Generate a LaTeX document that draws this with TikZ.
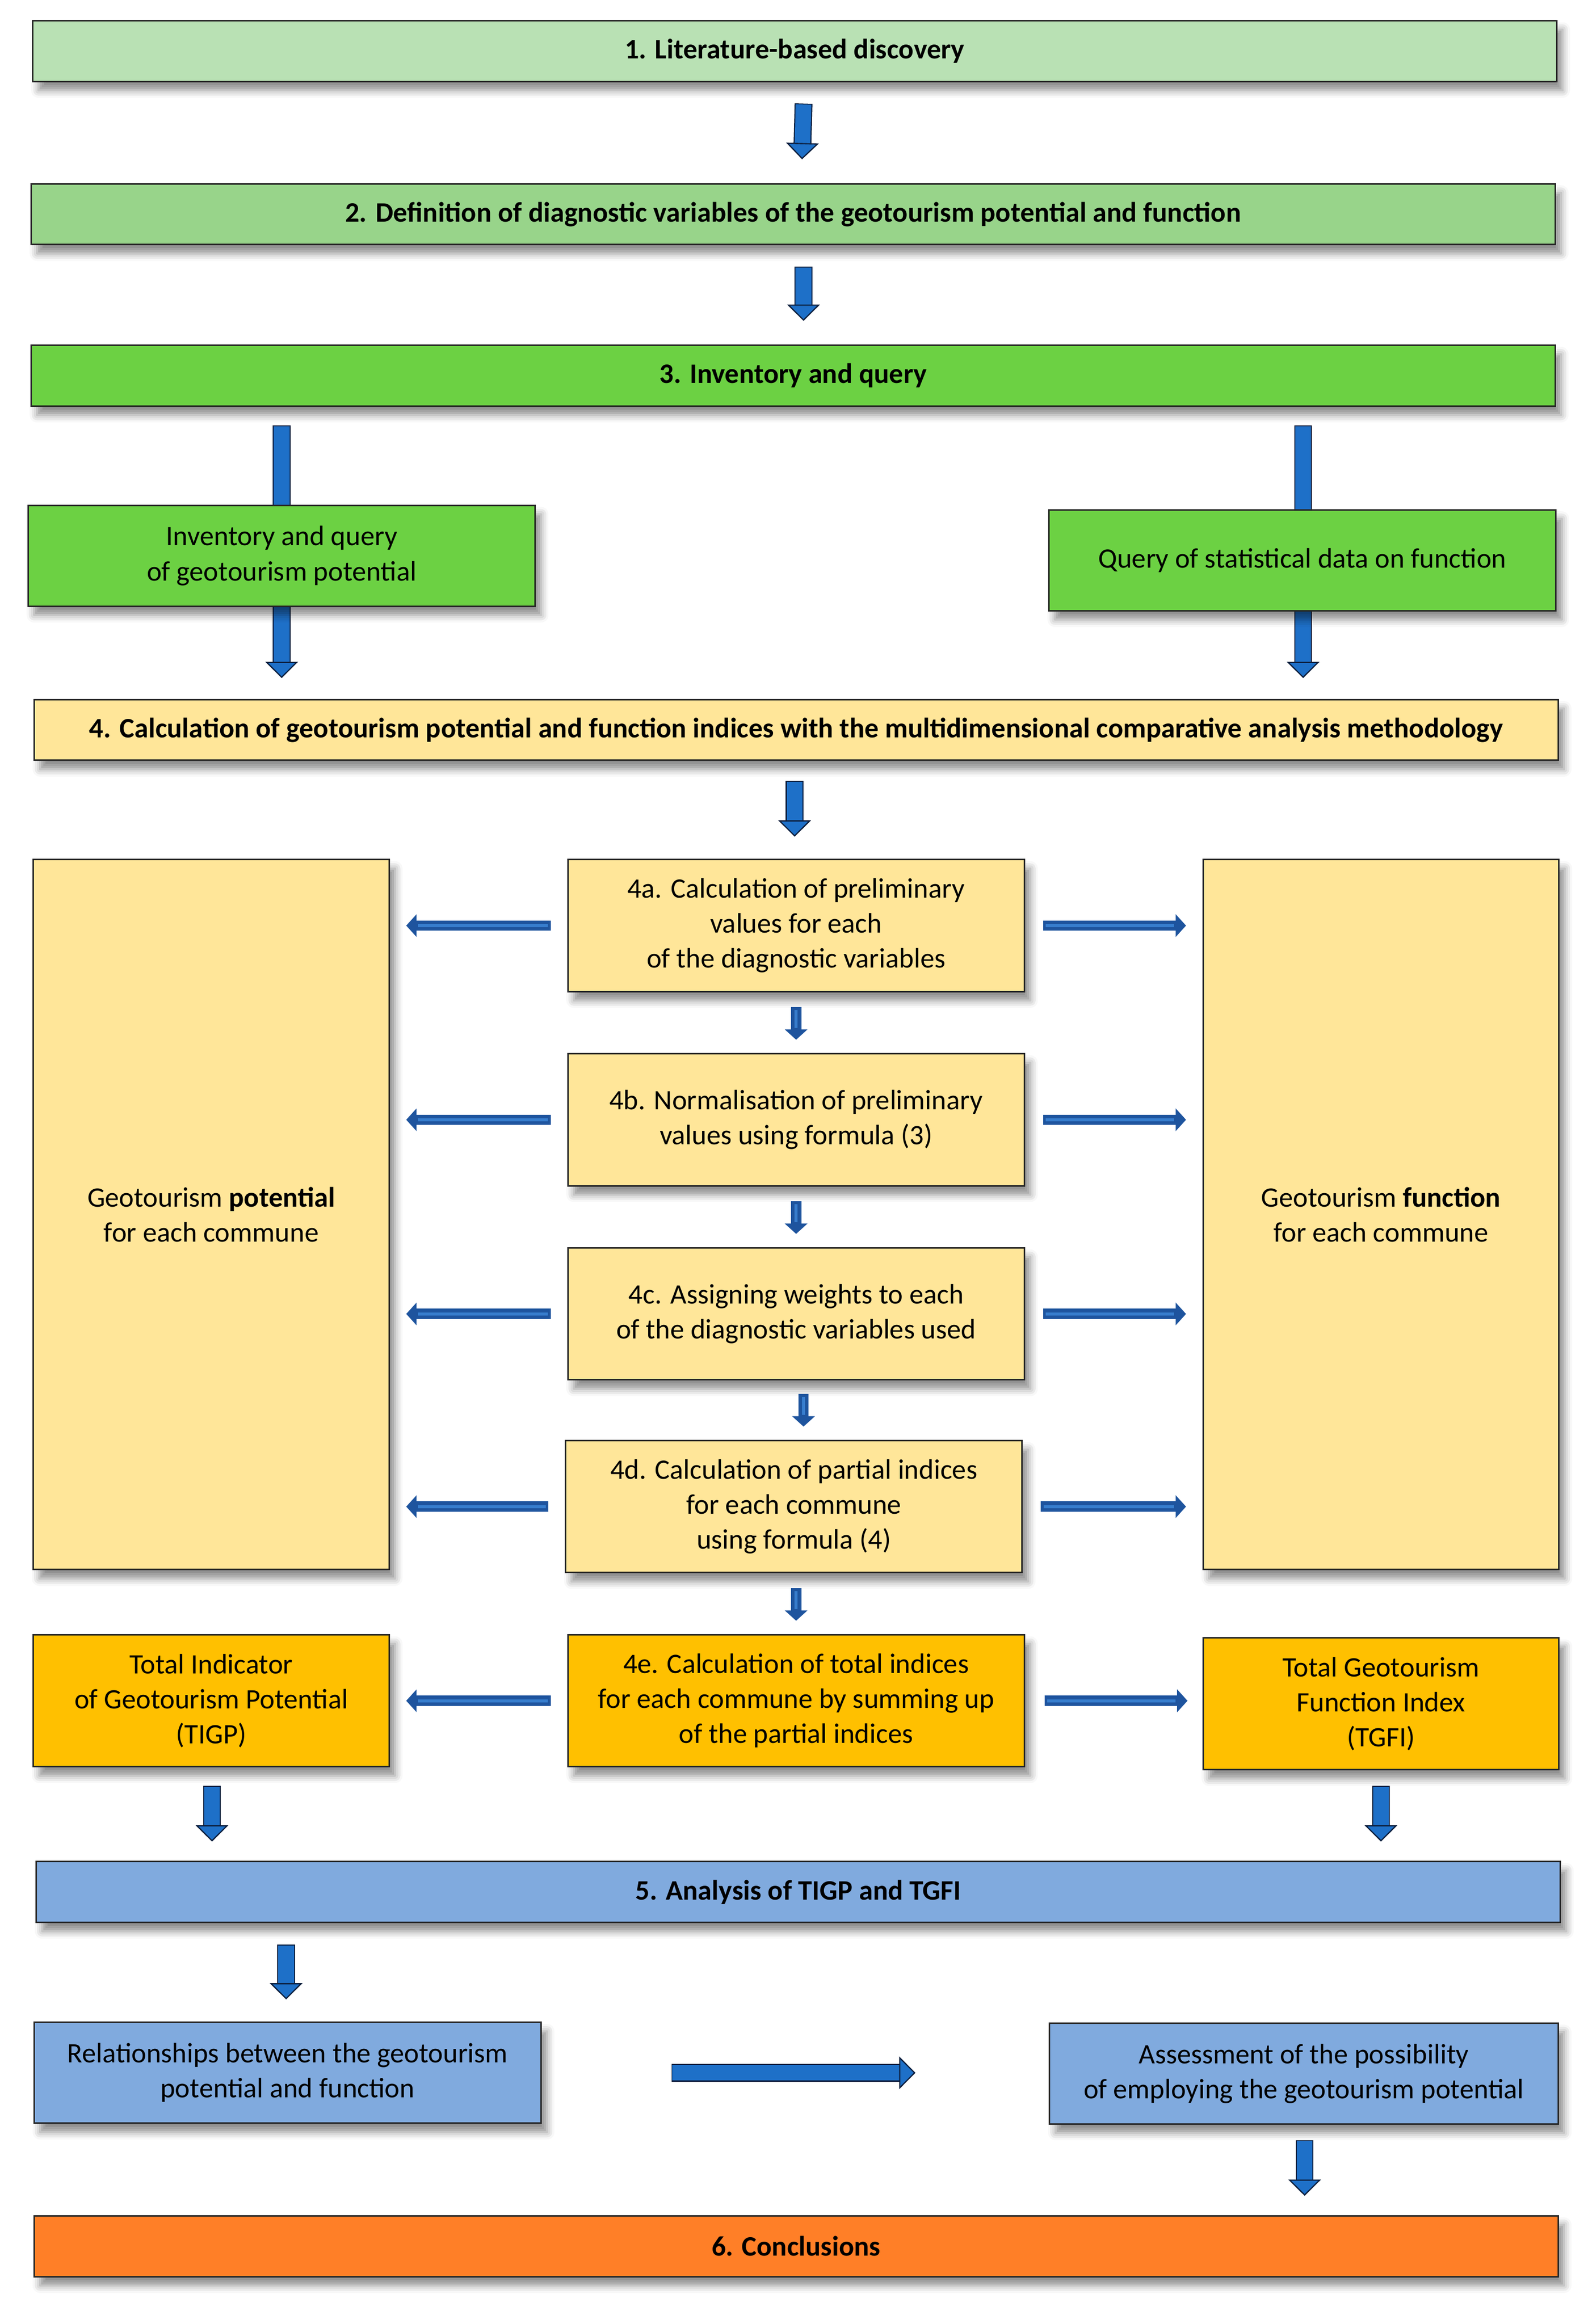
\documentclass[tikz,border=0pt]{standalone}
\usepackage{fontspec}
\setmainfont{Carlito}
\usetikzlibrary{arrows.meta,calc,shadows.blur}

\definecolor{stepone}{RGB}{185,225,180}
\definecolor{steptwo}{RGB}{152,212,138}
\definecolor{stepthree}{RGB}{108,209,67}
\definecolor{stepfour}{RGB}{255,230,153}
\definecolor{stepindex}{RGB}{255,192,0}
\definecolor{stepfive}{RGB}{128,170,222}
\definecolor{stepsix}{RGB}{255,127,39}
\definecolor{arrowblue}{RGB}{30,112,200}
\definecolor{arrowline}{RGB}{12,30,60}
\definecolor{sidedark}{RGB}{30,84,158}
\definecolor{sidelight}{RGB}{55,125,205}

\tikzset{
  box/.style={draw=black!85, line width=1pt, align=center, inner sep=2pt,
    font=\fontsize{19}{23.6}\selectfont,
    blur shadow={shadow xshift=4pt, shadow yshift=-6pt, shadow blur radius=5pt, shadow opacity=45}},
  widebox/.style={box, font=\fontsize{19}{23.6}\selectfont\bfseries,
    minimum width=1028pt, minimum height=41pt},
  sidebox/.style={box, minimum width=342pt, minimum height=68pt},
  midbox/.style={box, minimum width=308pt, minimum height=89pt, fill=stepfour},
  tallbox/.style={box, minimum width=240pt, minimum height=479pt, fill=stepfour},
  flowarrow/.style={arrowblue, line width=10.5pt,
    -{Triangle[width=22pt,length=11pt,fill=arrowblue,color=arrowline,line width=0.8pt]},
    preaction={draw=arrowline, line width=12pt, arrows=-, shorten >=10pt, shorten <=-0.6pt}},
  sidearrow/.style={sidedark, line width=7pt, -{Triangle[width=15pt,length=7pt]},
    postaction={draw=sidelight, line width=2pt, arrows=-, shorten >=8pt, shorten <=2pt}}
}

\begin{document}
\begin{tikzpicture}[x=1pt, y=-1pt]
  \useasboundingbox (0,0) rectangle (1071,1568);

  % Main steps
  \node[widebox, fill=stepone] (lit) at (536,34.5) {1. Literature-based discovery};
  \node[widebox, fill=steptwo] (def) at (535,144.5) {2. Definition of diagnostic variables of the geotourism potential and function};
  \node[widebox, fill=stepthree] (inq) at (535,253.5) {3. Inventory and query};
  \node[widebox, fill=stepfour] (mdca) at (537,492.5) {4. Calculation of geotourism potential and function indices with the multidimensional comparative analysis methodology};

  % Arrows behind the inventory boxes
  \draw[flowarrow] ($(inq.south -| 190,0)+(0,13)$) -- ($(mdca.north -| 190,0)+(0,-14)$);
  \draw[flowarrow] ($(inq.south -| 879,0)+(0,13)$) -- ($(mdca.north -| 879,0)+(0,-14)$);

  \node[sidebox, fill=stepthree] (inv) at (190,375) {Inventory and query\\of geotourism potential};
  \node[sidebox, fill=stepthree] (qry) at (878.5,378) {Query of statistical data on function};

  % Sub-steps of step 4
  \node[tallbox] (pot) at (142.5,819.5) {Geotourism \textbf{potential}\\for each commune};
  \node[tallbox] (fun) at (931.5,819.5) {Geotourism \textbf{function}\\for each commune};
  \node[midbox] (s4a) at (537,624.5) {4a. Calculation of preliminary\\values for each\\of the diagnostic variables};
  \node[midbox] (s4b) at (537,755.5) {4b. Normalisation of preliminary\\values using formula (3)};
  \node[midbox] (s4c) at (537,886.5) {4c. Assigning weights to each\\of the diagnostic variables used};
  \node[midbox] (s4d) at (535.5,1016.5) {4d. Calculation of partial indices\\for each commune\\using formula (4)};
  \node[midbox, fill=stepindex] (s4e) at (537,1147.5) {4e. Calculation of total indices\\for each commune by summing up\\of the partial indices};
  \node[box, minimum width=240pt, minimum height=89pt, fill=stepindex] (tigp) at (142.5,1147.5) {Total Indicator\\of Geotourism Potential\\(TIGP)};
  \node[box, minimum width=240pt, minimum height=89pt, fill=stepindex] (tgfi) at (931.5,1149.5) {Total Geotourism\\Function Index\\(TGFI)};

  % Steps 5 and 6
  \node[widebox, fill=stepfive] (ana) at (538.5,1276.5) {5. Analysis of TIGP and TGFI};
  \node[sidebox, fill=stepfive] (rel) at (194,1398.5) {Relationships between the geotourism\\potential and function};
  \node[sidebox, fill=stepfive, minimum width=343pt] (ass) at (879.5,1399) {Assessment of the possibility\\of employing the geotourism potential};
  \node[widebox, fill=stepsix] (con) at (537,1515.5) {6. Conclusions};

  % Down arrows
  \draw[flowarrow] ($(lit.south)+(6,15)$) -- ($(def.north)+(6,-16)$);
  \draw[flowarrow] ($(def.south)+(7,15)$) -- ($(inq.north)+(7,-16)$);
  \draw[flowarrow] ($(mdca.south)+(-1,14)$) -- ($(s4a.north)+(-1,-15)$);
  \draw[sidearrow] ($(s4a.south)+(0,10)$) -- ($(s4b.north)+(0,-9)$);
  \draw[sidearrow] ($(s4b.south)+(0,10)$) -- ($(s4c.north)+(0,-9)$);
  \draw[sidearrow] ($(s4c.south)+(5,9)$) -- ($(s4d.north)+(6.5,-9)$);
  \draw[sidearrow] ($(s4d.south)+(1.5,10)$) -- ($(s4e.north)+(0,-9)$);
  \draw[flowarrow] ($(tigp.south)+(0.5,13)$) -- ($(ana.north -| tigp.south)+(0.5,-13)$);
  \draw[flowarrow] ($(tgfi.south)+(0,11)$) -- ($(ana.north -| tgfi.south)+(0,-13)$);
  \draw[flowarrow] ($(ana.south -| rel.north)+(-1,15)$) -- ($(rel.north)+(-1,-15)$);
  \draw[flowarrow] ($(ass.south)+(0.5,11)$) -- ($(con.north -| ass.south)+(0.5,-13)$);
  \draw[flowarrow] ($(rel.east)+(88,0)$) -- ($(ass.west)+(-90,-0.5)$);

  % Side arrows of step 4
  \foreach \s in {s4a,s4b,s4c,s4d} {
    \draw[sidearrow] ($(\s.west)+(-11,0)$) -- ($(pot.east |- \s.west)+(11,0)$);
    \draw[sidearrow] ($(\s.east)+(12,0)$) -- ($(fun.west |- \s.east)+(-11,0)$);
  }
  \draw[sidearrow] ($(s4e.west)+(-11,0)$) -- ($(tigp.east)+(11,0)$);
  \draw[sidearrow] ($(s4e.east)+(13,0)$) -- ($(tgfi.west |- s4e.east)+(-10,0)$);
\end{tikzpicture}
\end{document}
